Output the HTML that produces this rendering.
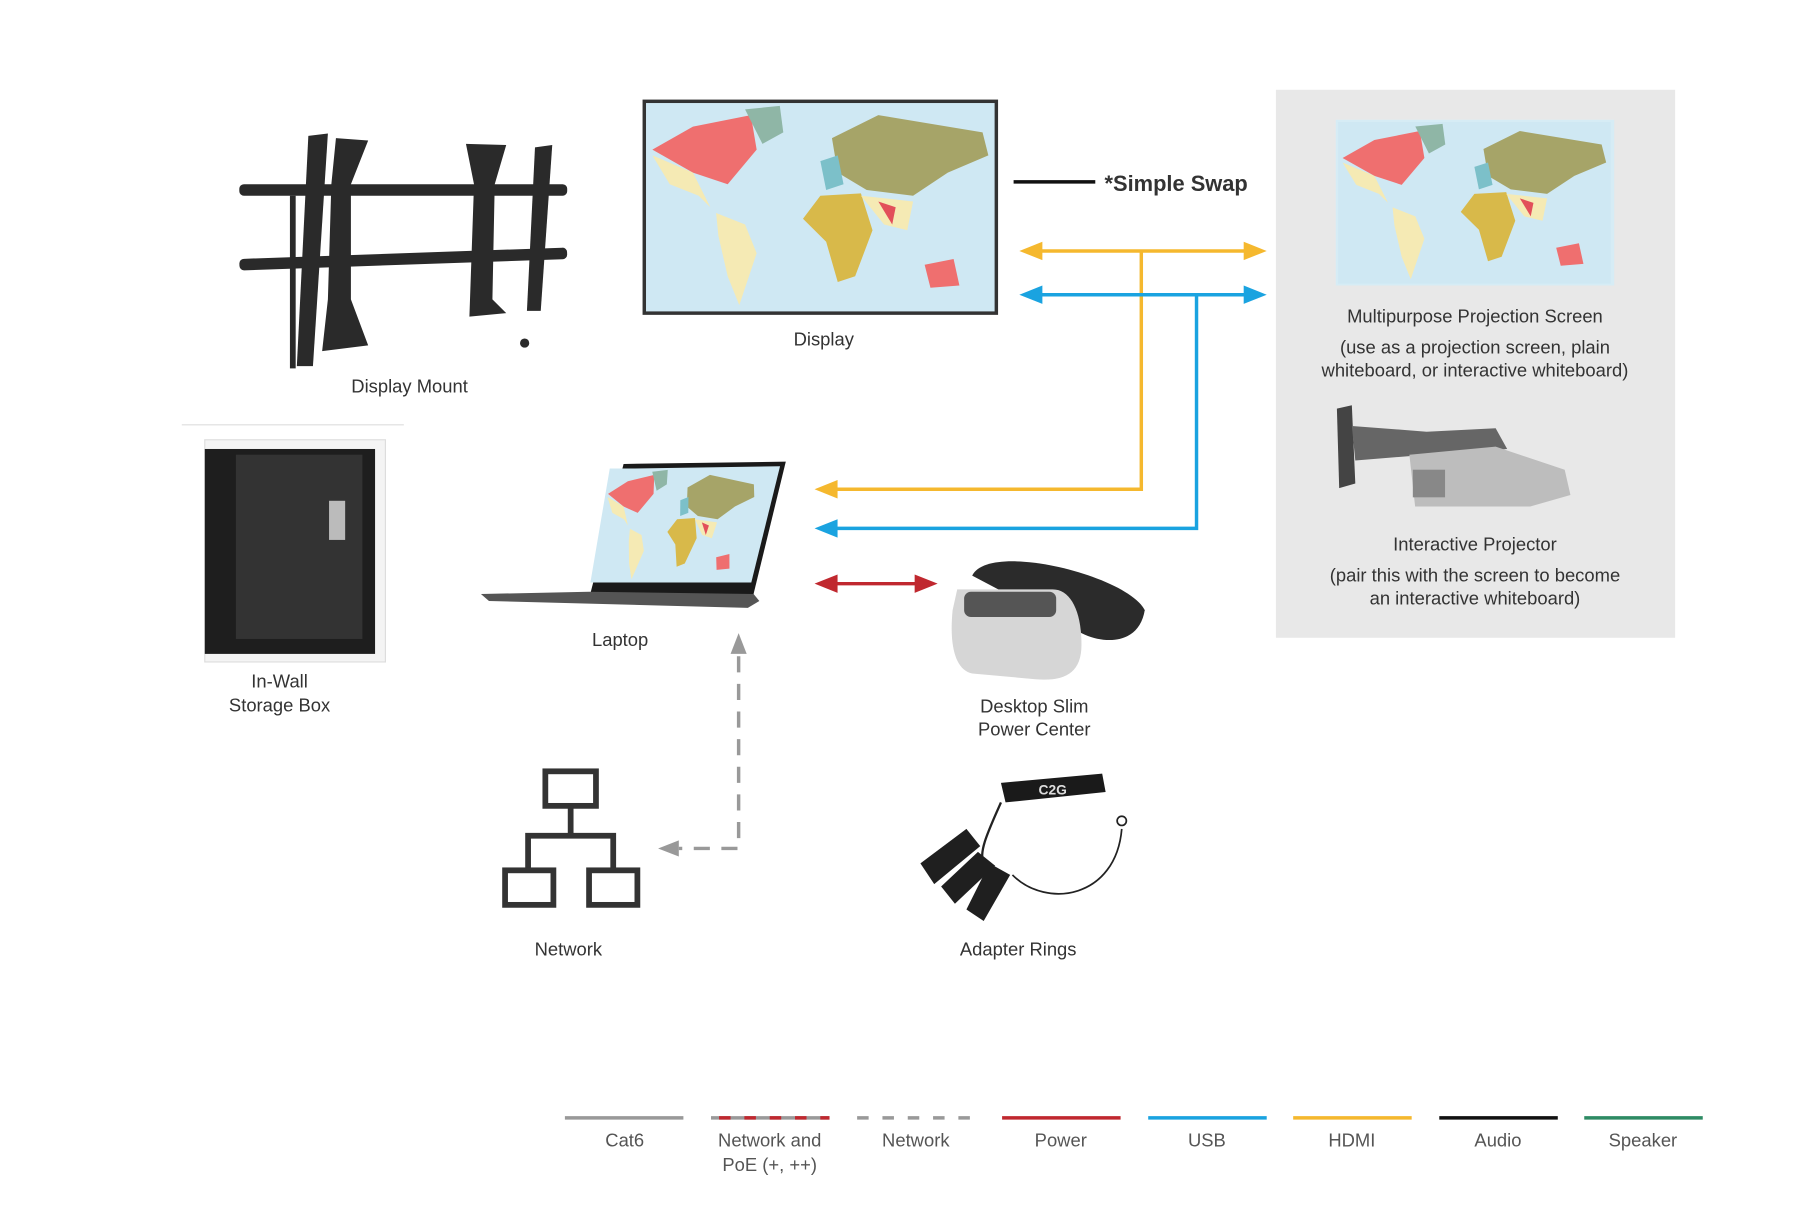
<!DOCTYPE html>
<html><head><meta charset="utf-8"><style>
html,body{margin:0;padding:0;background:#fff;}
svg{display:block;}
text{font-family:"Liberation Sans",sans-serif;fill:#333;}
</style></head><body>
<svg width="1804" height="1218" viewBox="0 0 1568 1058" preserveAspectRatio="none" xmlns="http://www.w3.org/2000/svg">
<defs>
<g id="map">
 <rect x="0" y="0" width="300" height="180" fill="#cfe8f3"/>
 <path d="M5,40 L40,20 L90,10 L95,40 L70,70 L40,60 Z" fill="#ef6f6f"/>
 <path d="M5,45 L40,60 L55,90 L45,80 L20,70 Z" fill="#f5eab4"/>
 <path d="M60,95 L85,105 L95,130 L80,175 L70,150 L62,115 Z" fill="#f5eab4"/>
 <path d="M85,5 L115,2 L118,25 L100,35 Z" fill="#8fb6a6"/>
 <path d="M160,30 L200,10 L290,25 L295,45 L260,60 L230,80 L190,75 L165,60 Z" fill="#a6a468"/>
 <path d="M150,80 L185,78 L195,110 L180,150 L165,155 L155,120 L135,100 Z" fill="#d8b94a"/>
 <path d="M185,80 L230,85 L225,110 L205,105 Z" fill="#f5eab4"/>
 <path d="M200,85 L215,90 L212,105 Z" fill="#e24f5a"/>
 <path d="M240,140 L265,135 L270,158 L245,160 Z" fill="#ef6f6f"/>
 <path d="M150,50 L165,45 L170,70 L155,75 Z" fill="#7cc0c9"/>
</g>
</defs>

<rect x="1109" y="78" width="347" height="476" fill="#e8e8e8"/>

<g fill="#2a2a2a">
 <rect x="208" y="160" width="285" height="10" rx="4"/>
 <rect x="208" y="220" width="285" height="10" rx="4" transform="rotate(-2 350 225)"/>
 <path d="M268,118 L285,116 L272,318 L258,318 Z"/>
 <path d="M292,120 L320,122 L305,160 L305,260 L320,300 L280,305 L285,260 L288,160 Z"/>
 <path d="M405,125 L440,126 L430,160 L428,260 L440,272 L408,275 L412,160 Z"/>
 <path d="M465,128 L480,126 L470,270 L458,270 Z"/>
 <rect x="252" y="170" width="5" height="150"/>
 <circle cx="456" cy="298" r="4"/>
</g>
<text x="356" y="341" font-size="16" text-anchor="middle">Display Mount</text>
<line x1="158" y1="369" x2="351" y2="369" stroke="#ddd" stroke-width="1"/>

<rect x="178" y="382" width="157" height="193" fill="#f4f4f4" stroke="#ddd"/>
<rect x="178" y="390" width="148" height="178" fill="#1e1e1e"/>
<rect x="205" y="395" width="110" height="160" fill="#333"/>
<rect x="286" y="435" width="14" height="34" fill="#bbb"/>
<text x="243" y="597" font-size="16" text-anchor="middle">In-Wall</text>
<text x="243" y="618" font-size="16" text-anchor="middle">Storage Box</text>

<rect x="560" y="88" width="306" height="184" fill="#cfe8f3" stroke="#333" stroke-width="3"/>
<use href="#map" transform="translate(562,90) scale(1.007,1.0)"/>
<text x="716" y="300" font-size="16" text-anchor="middle">Display</text>

<line x1="881" y1="158" x2="952" y2="158" stroke="#111" stroke-width="3"/>
<text x="960" y="166" font-size="19" font-weight="bold">*Simple Swap</text>

<rect x="1161" y="104" width="242" height="144" fill="#d6ecf5"/>
<use href="#map" transform="translate(1163,106) scale(0.79,0.78)"/>
<text x="1282" y="280" font-size="16" text-anchor="middle">Multipurpose Projection Screen</text>
<text x="1282" y="307" font-size="16" text-anchor="middle">(use as a projection screen, plain</text>
<text x="1282" y="327" font-size="16" text-anchor="middle">whiteboard, or interactive whiteboard)</text>

<path d="M1162,355 L1175,352 L1178,420 L1164,424 Z" fill="#444"/>
<path d="M1175,370 L1240,375 L1300,372 L1310,390 L1240,395 L1178,400 Z" fill="#666"/>
<path d="M1225,395 L1300,388 L1360,408 L1365,430 L1330,440 L1230,440 Z" fill="#bdbdbd"/>
<rect x="1228" y="408" width="28" height="24" fill="#888"/>
<text x="1282" y="478" font-size="16" text-anchor="middle">Interactive Projector</text>
<text x="1282" y="505" font-size="16" text-anchor="middle">(pair this with the screen to become</text>
<text x="1282" y="525" font-size="16" text-anchor="middle">an interactive whiteboard)</text>

<g stroke="#f5b82e" stroke-width="3" fill="none">
 <line x1="900" y1="218" x2="1088" y2="218"/>
 <polyline points="992,218 992,425 722,425"/>
</g>
<g fill="#f5b82e">
 <polygon points="886,218 906,210 906,226"/>
 <polygon points="1101,218 1081,210 1081,226"/>
 <polygon points="708,425 728,417 728,433"/>
</g>
<g stroke="#1aa3e0" stroke-width="3" fill="none">
 <line x1="900" y1="256" x2="1088" y2="256"/>
 <polyline points="1040,256 1040,459 722,459"/>
</g>
<g fill="#1aa3e0">
 <polygon points="886,256 906,248 906,264"/>
 <polygon points="1101,256 1081,248 1081,264"/>
 <polygon points="708,459 728,451 728,467"/>
</g>
<line x1="720" y1="507" x2="802" y2="507" stroke="#c0282f" stroke-width="3"/>
<polygon points="708,507 728,499 728,515" fill="#c0282f"/>
<polygon points="815,507 795,499 795,515" fill="#c0282f"/>

<path d="M542,403 L683,401 L654,520 L512,520 Z" fill="#1a1a1a"/>
<path d="M547,407 L678,405 L653,506 L518,506 Z" fill="#cfe8f3"/>
<use href="#map" transform="translate(530,407) scale(0.44,0.55) skewX(-12)"/>
<path d="M418,516 L512,514 L655,516 L660,522 L650,528 L425,522 Z" fill="#555"/>
<text x="539" y="561" font-size="16" text-anchor="middle">Laptop</text>

<path d="M845,500 C860,470 980,500 995,530 C990,560 960,560 940,550 Z" fill="#2b2b2b"/>
<path d="M832,512 L915,512 C930,512 940,530 940,560 C940,585 925,592 900,590 L845,585 C830,582 825,560 828,530 Z" fill="#d6d6d6"/>
<rect x="838" y="514" width="80" height="22" rx="6" fill="#555"/>
<text x="899" y="619" font-size="16" text-anchor="middle">Desktop Slim</text>
<text x="899" y="639" font-size="16" text-anchor="middle">Power Center</text>

<g stroke="#999" stroke-width="3" fill="none" stroke-dasharray="14,10">
 <polyline points="642,570 642,737 590,737"/>
</g>
<polygon points="642,550 635,568 649,568" fill="#999"/>
<polygon points="572,737 590,730 590,744" fill="#999"/>

<g stroke="#333" stroke-width="5" fill="none">
 <rect x="474" y="670" width="44" height="30"/>
 <line x1="496" y1="700" x2="496" y2="726"/>
 <polyline points="459,756 459,726 533,726 533,756"/>
 <rect x="439" y="756" width="42" height="30"/>
 <rect x="512" y="756" width="42" height="30"/>
</g>
<text x="494" y="830" font-size="16" text-anchor="middle">Network</text>

<path d="M870,680 L958,672 L961,688 L874,697 Z" fill="#1a1a1a"/>
<text x="915" y="690" font-size="12" font-weight="bold" style="fill:#ddd" text-anchor="middle">C2G</text>
<path d="M870,697 C860,720 850,740 855,750" stroke="#222" stroke-width="2" fill="none"/>
<path d="M880,760 C910,790 970,780 975,720" stroke="#222" stroke-width="1.5" fill="none"/>
<circle cx="975" cy="713" r="4" fill="none" stroke="#222" stroke-width="1.5"/>
<g fill="#1f1f1f">
 <path d="M800,750 L840,720 L852,735 L812,768 Z"/>
 <path d="M818,770 L850,740 L865,752 L830,785 Z"/>
 <path d="M840,790 L860,750 L878,760 L855,800 Z"/>
</g>
<text x="885" y="830" font-size="16" text-anchor="middle">Adapter Rings</text>

<g stroke-width="3">
 <line x1="491" y1="971" x2="594" y2="971" stroke="#999"/>
 <line x1="618" y1="971" x2="721" y2="971" stroke="#999"/>
 <line x1="625" y1="971" x2="721" y2="971" stroke="#c0282f" stroke-dasharray="10,12"/>
 <line x1="745" y1="971" x2="848" y2="971" stroke="#999" stroke-dasharray="10,12"/>
 <line x1="871" y1="971" x2="974" y2="971" stroke="#c0282f"/>
 <line x1="998" y1="971" x2="1101" y2="971" stroke="#1aa3e0"/>
 <line x1="1124" y1="971" x2="1227" y2="971" stroke="#f5b82e"/>
 <line x1="1251" y1="971" x2="1354" y2="971" stroke="#111"/>
 <line x1="1377" y1="971" x2="1480" y2="971" stroke="#2e8b64"/>
</g>
<g font-size="16" text-anchor="middle">
 <text x="543" y="996" style="fill:#555">Cat6</text>
 <text x="669" y="996" style="fill:#555">Network and</text>
 <text x="669" y="1017" style="fill:#555">PoE (+, ++)</text>
 <text x="796" y="996" style="fill:#555">Network</text>
 <text x="922" y="996" style="fill:#555">Power</text>
 <text x="1049" y="996" style="fill:#555">USB</text>
 <text x="1175" y="996" style="fill:#555">HDMI</text>
 <text x="1302" y="996" style="fill:#555">Audio</text>
 <text x="1428" y="996" style="fill:#555">Speaker</text>
</g>
</svg>
</body></html>
